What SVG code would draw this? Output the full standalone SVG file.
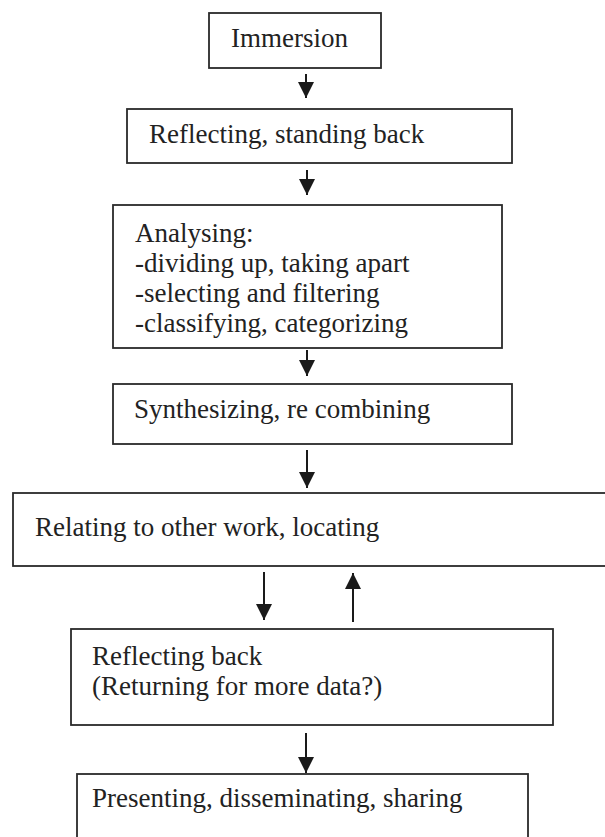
<svg xmlns="http://www.w3.org/2000/svg" width="605" height="837" viewBox="0 0 605 837">
<style>
.box{fill:#fff;stroke:#2a2a2a;stroke-width:1.8}
.t{font-family:'Liberation Serif','DejaVu Serif',serif;font-size:27px;fill:#222}
.c{stroke:#1a1a1a;stroke-width:2;fill:none}
</style>
<defs>
<marker id="ah" viewBox="0 0 10 10" refX="10" refY="5" markerWidth="8" markerHeight="8" markerUnits="strokeWidth" orient="auto">
<path d="M0,0 L10,5 L0,10 Z" fill="#1a1a1a"/>
</marker>
</defs>
<rect width="605" height="837" fill="#fff"/>
<g id="n1"><rect class="box" x="209" y="13" width="172" height="55"/><text class="t" x="231" y="47">Immersion</text></g>
<g id="n2"><rect class="box" x="127" y="109" width="385" height="54"/><text class="t" x="149" y="143">Reflecting, standing back</text></g>
<g id="n3"><rect class="box" x="113" y="205" width="389" height="143"/>
<text class="t" x="135" y="242">Analysing:</text>
<text class="t" x="135" y="272">-dividing up, taking apart</text>
<text class="t" x="135" y="302">-selecting and filtering</text>
<text class="t" x="135" y="332">-classifying, categorizing</text></g>
<g id="n4"><rect class="box" x="113" y="384" width="399" height="60"/><text class="t" x="134" y="418">Synthesizing, re combining</text></g>
<g id="n5"><rect class="box" x="13" y="493" width="610" height="73"/><text class="t" x="35" y="536">Relating to other work, locating</text></g>
<g id="n6"><rect class="box" x="71" y="629" width="482" height="96"/>
<text class="t" x="92" y="665">Reflecting back</text>
<text class="t" x="92" y="695">(Returning for more data?)</text></g>
<g id="n7"><rect class="box" x="77" y="774" width="451" height="80"/><text class="t" x="92" y="807">Presenting, disseminating, sharing</text></g>
<g id="connectors">
<line class="c" x1="306" y1="74" x2="306" y2="98" marker-end="url(#ah)"/>
<line class="c" x1="307" y1="170" x2="307" y2="195" marker-end="url(#ah)"/>
<line class="c" x1="307" y1="350" x2="307" y2="376" marker-end="url(#ah)"/>
<line class="c" x1="307" y1="450" x2="307" y2="488" marker-end="url(#ah)"/>
<line class="c" x1="264" y1="572" x2="264" y2="620" marker-end="url(#ah)"/>
<line class="c" x1="353" y1="622" x2="353" y2="573" marker-end="url(#ah)"/>
<line class="c" x1="306" y1="733" x2="306" y2="773" marker-end="url(#ah)"/>
</g>
</svg>
